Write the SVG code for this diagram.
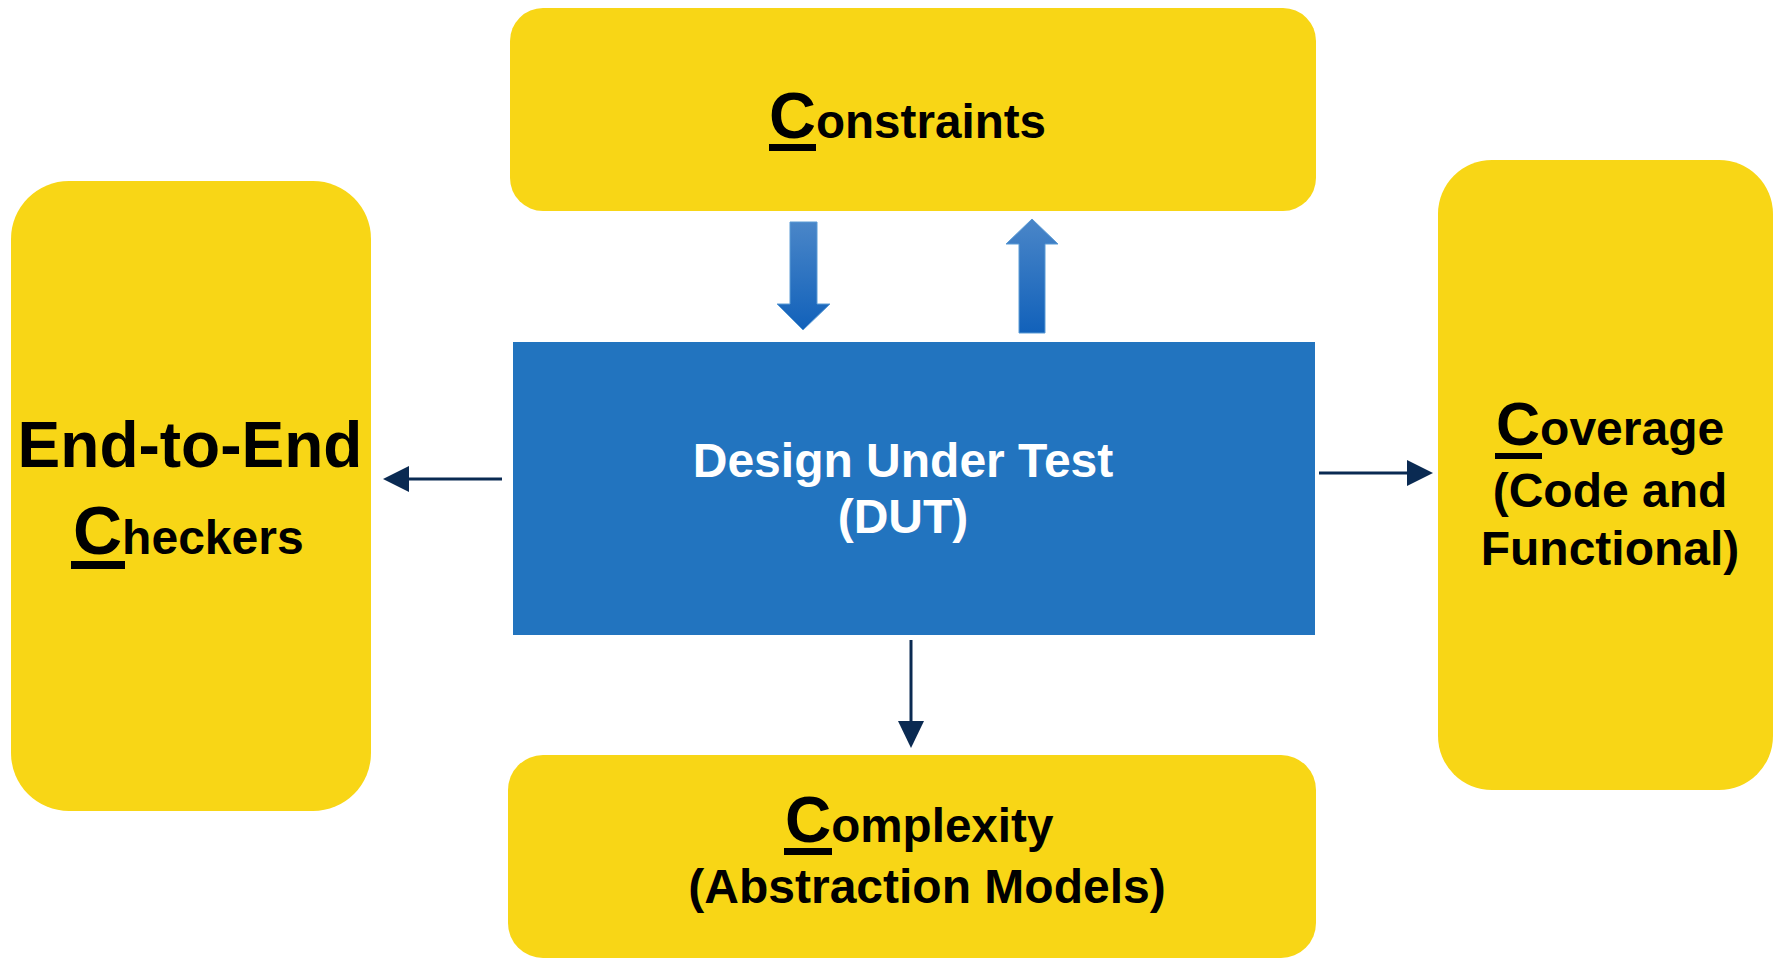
<svg xmlns="http://www.w3.org/2000/svg" width="1776" height="959" viewBox="0 0 1776 959">
  <defs>
    <style>
      .box { fill: #F8D616; }
      .dut { fill: #2274BF; }
      .t { font-family: "Liberation Sans", Arial, sans-serif; font-weight: bold; fill: #000; }
      .w { font-family: "Liberation Sans", Arial, sans-serif; font-weight: bold; fill: #FFFFFF; }
      .ul { fill: #000; }
      .conn { stroke: #0A2A52; stroke-width: 3; fill: none; }
      .head { fill: #0A2A52; }
      .blk { stroke: #5B9BD5; stroke-width: 1; }
    </style>
    <linearGradient id="gblue" x1="0" y1="0" x2="0" y2="1">
      <stop offset="0" stop-color="#4A86C8"/>
      <stop offset="1" stop-color="#1161BA"/>
    </linearGradient>
  </defs>
  <rect width="1776" height="959" fill="#FFFFFF"/>

  <g id="constraints">
    <rect class="box" x="510" y="8" width="806" height="203" rx="33" ry="33"/>
    <text class="t" x="769" y="138"><tspan font-size="65">C</tspan><tspan font-size="47.6">onstraints</tspan></text>
    <rect class="ul" x="769" y="144" width="47" height="7"/>
  </g>

  <g id="checkers">
    <rect class="box" x="11" y="181" width="360" height="630" rx="58" ry="58"/>
    <text class="t" x="190" y="467" font-size="64" text-anchor="middle">End-to-End</text>
    <text class="t" x="73" y="554"><tspan font-size="68">C</tspan><tspan font-size="48">heckers</tspan></text>
    <rect class="ul" x="71" y="561" width="54" height="8"/>
  </g>

  <g id="coverage">
    <rect class="box" x="1438" y="160" width="335" height="630" rx="54" ry="54"/>
    <text class="t" x="1496" y="445"><tspan font-size="61">C</tspan><tspan font-size="48">overage</tspan></text>
    <rect class="ul" x="1495" y="453" width="47" height="6"/>
    <text class="t" x="1610" y="507" font-size="48" text-anchor="middle">(Code and</text>
    <text class="t" x="1610" y="565" font-size="48" text-anchor="middle">Functional)</text>
  </g>

  <g id="complexity">
    <rect class="box" x="508" y="755" width="808" height="203" rx="35" ry="35"/>
    <text class="t" x="785" y="842"><tspan font-size="64">C</tspan><tspan font-size="47.6">omplexity</tspan></text>
    <rect class="ul" x="784" y="848" width="48" height="7"/>
    <text class="t" x="927" y="903" font-size="48" text-anchor="middle">(Abstraction Models)</text>
  </g>

  <g id="dut">
    <rect class="dut" x="513" y="342" width="802" height="293"/>
    <text class="w" x="903" y="477" font-size="48" text-anchor="middle">Design Under Test</text>
    <text class="w" x="903" y="533" font-size="48" text-anchor="middle">(DUT)</text>
  </g>

  <g id="connectors">
    <polygon class="blk" fill="url(#gblue)" points="790,222 817,222 817,304 830,304 803,330 777,304 790,304"/>
    <polygon class="blk" fill="url(#gblue)" points="1032,219 1058,244 1045,244 1045,333 1019,333 1019,244 1006,244"/>
    <line class="conn" x1="502" y1="479" x2="405" y2="479"/>
    <polygon class="head" points="383,479 409,466 409,492"/>
    <line class="conn" x1="1319" y1="473" x2="1410" y2="473"/>
    <polygon class="head" points="1433,473 1407,460 1407,486"/>
    <line class="conn" x1="911" y1="640" x2="911" y2="725"/>
    <polygon class="head" points="911,748 898,721 924,721"/>
  </g>
</svg>
